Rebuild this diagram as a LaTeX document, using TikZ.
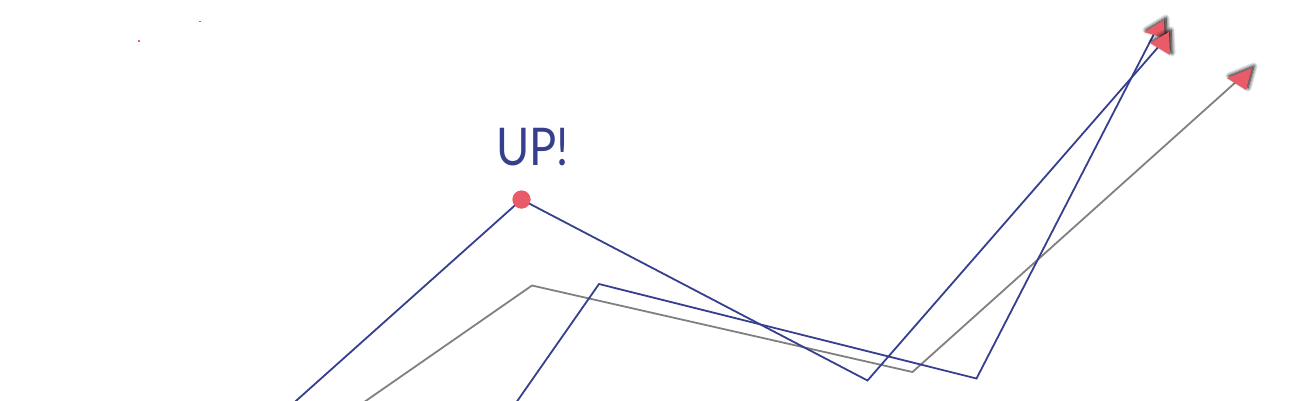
\documentclass[tikz,border=0pt]{standalone}
\usepackage{fontspec}
\setmainfont{Lato}
\usetikzlibrary{shadows.blur}
\definecolor{lineblue}{HTML}{363F8E}
\definecolor{tipred}{HTML}{E95B69}
\definecolor{linegray}{HTML}{808080}
\tikzset{
  blueline/.style={draw=lineblue, line width=1.8pt, line join=miter},
  grayline/.style={draw=linegray, line width=1.8pt, line join=miter},
  tiptri/.style={fill=tipred, blur shadow={shadow xshift=2pt, shadow yshift=2pt, shadow blur radius=4pt, shadow opacity=100, shadow blur steps=10}},
  peakdot/.style={circle, fill=tipred, inner sep=0pt, minimum size=18pt},
  uplabel/.style={text=lineblue, font=\fontsize{52}{52}\selectfont, inner sep=0pt, xscale=0.87}
}
\begin{document}
\begin{tikzpicture}[x=1pt, y=-1pt]
\useasboundingbox (0,0) rectangle (1293,400);
\clip (0,0) rectangle (1293,400);
% stray marks
\fill[tipred] (138,40) rectangle (140,42);
\fill[linegray] (199,20.5) rectangle (201,22);
% coordinates
\coordinate (b1s) at (274.6,420);
\coordinate (b1c) at (867.5,380.5);
\coordinate (b1e) at (1160,45);
\coordinate (b2s) at (504,420);
\coordinate (b2a) at (599,284);
\coordinate (b2b) at (976.5,378.5);
\coordinate (b2e) at (1155,32);
\coordinate (gs) at (338.3,420);
\coordinate (ga) at (532,285.5);
\coordinate (gb) at (912.5,372);
\coordinate (ge) at (1237,81);
% label and peak
\node[uplabel] (up) at (532.5,147) {UP!};
\node[peakdot] (peak) at (521.5,199.5) {};
% lines
\draw[grayline] (gs) -- (ga) -- (gb) -- (ge);
\draw[blueline] (b2s) -- (b2a) -- (b2b) -- (b2e);
\draw[blueline] (b1s) -- (peak.center) -- (b1c) -- (b1e);
\node[peakdot] at (peak.center) {};
% arrow triangles
\path[tiptri] (1144,32) -- (1164,20) -- (1165,38) -- cycle;
\path[tiptri] (1150,43) -- (1169,32) -- (1170,55) -- cycle;
\path[tiptri] (1227,78) -- (1252,68) -- (1246,90) -- cycle;
\end{tikzpicture}
\end{document}
